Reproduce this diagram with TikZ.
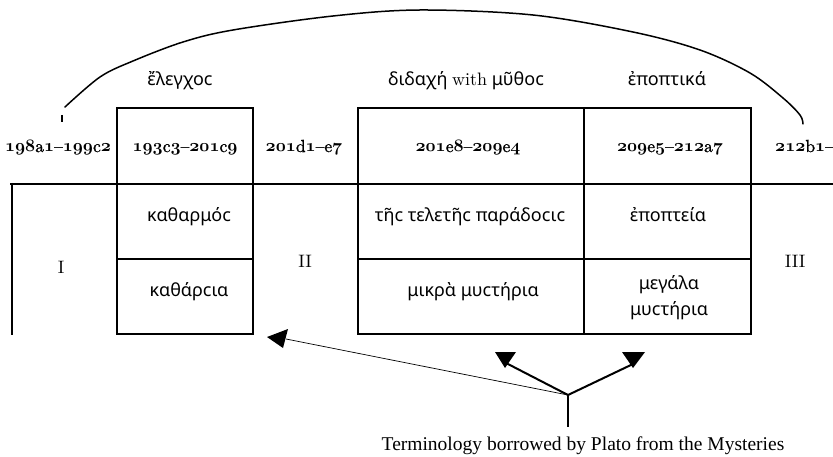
\documentclass[tikz,border=0pt]{standalone}
\usepackage{fontspec}
\newfontfamily\grk{Noto Sans}
\newfontfamily\capfont{Liberation Serif}
\newfontfamily\numfont{lmroman10-regular.otf}[FakeBold=1.3]
\newfontfamily\plainrm{lmroman10-regular.otf}
\font\osfont=cmmib10 at 17.5pt
\newcommand\os[1]{{\osfont #1}}
\begin{document}
\begin{tikzpicture}[x=1pt,y=-1pt,
  num/.style={font=\numfont\fontsize{17.5}{21}\selectfont, anchor=base, inner sep=0pt},
  gk/.style={font=\grk\fontsize{18}{21}\selectfont, anchor=base, inner sep=0pt},
  rn/.style={font=\plainrm\fontsize{18}{21}\selectfont, anchor=base, inner sep=0pt},
  thick box/.style={line width=2.2pt},
  divider/.style={line width=1.5pt},
  arrowline/.style={line width=2pt},
  headfill/.style={fill=black, draw=none}]
\useasboundingbox (0,0) rectangle (833,457);

% table frame
\draw[thick box] (10,184) -- (833,184);
\draw[thick box] (12,183) -- (12,335);
\draw[thick box] (117,108) rectangle (253,334);
\draw[thick box] (358,108) rectangle (751,334);
\draw[thick box] (584,108) -- (584,334);
\draw[divider] (117,259) -- (253,259);
\draw[divider] (358,259) -- (751,259);

% top labels
\node[gk] (elenchos) at (180,86) {ἔλεγχοϲ};
\node[gk] (didache) at (466,86) {διδαχή {\plainrm\fontsize{18}{21}\selectfont with} μῦθοϲ};
\node[gk] (epoptika) at (667,86) {ἐποπτικά};

% reference row
\node[num] (r1) at (58,152) {\os{198}a\os{1}–\os{199}c\os{2}};
\node[num] (r2) at (185,152) {\os{193}c\os{3}–\os{201}c\os{9}};
\node[num] (r3) at (304,152) {\os{201}d\os{1}–e\os{7}};
\node[num] (r4) at (468,152) {\os{201}e\os{8}–\os{209}e\os{4}};
\node[num] (r5) at (670,152) {\os{209}e\os{5}–\os{212}a\os{7}};
\node[num, anchor=base west] (r6) at (775,152) {\os{212}b\os{1}–c\os{3}};

% lower cells
\node[rn] (I) at (61,273) {I};
\node[rn] (II) at (305,268) {II};
\node[rn] (III) at (795,268) {III};
\node[gk] (katharmos) at (189,222) {καθαρμόϲ};
\node[gk] (kathartsia) at (189,297) {καθάρϲια};
\node[gk] (paradosis) at (470,222) {τῆϲ τελετῆϲ παράδοϲιϲ};
\node[gk] (mikra) at (473,297) {μικρὰ μυϲτήρια};
\node[gk] (epopteia) at (668,222) {ἐποπτεία};
\node[font=\grk\fontsize{18}{26}\selectfont, align=center, inner sep=0pt] (megala) at (669,298) {μεγάλα\\μυϲτήρια};

% arc over the whole
\draw[line width=2pt] (62,115) -- (62,122);
\draw[line width=1.5pt, line cap=round] plot[smooth, tension=0.55] coordinates {(65,107) (100,77) (133,61) (183,42) (233,30) (333,16) (420,10) (533,15) (633,32) (700,50) (750,73) (783,98) (800,115) (803,124)};

% arrows
\coordinate (j) at (568,395);
\coordinate (jb) at (568,427);
\coordinate (aL) at (286,339);
\coordinate (aM) at (506,363);
\coordinate (aR) at (633,364);
\draw[line width=0.7pt] (j) -- (aL);
\draw[arrowline] (j) -- (aM);
\draw[arrowline] (j) -- (aR);
\draw[line width=2.5pt] (j) -- (jb);
\fill[headfill] (267,337) -- (288,329) -- (283,348) -- cycle;
\fill[headfill] (495,352) -- (516,352) -- (505,368) -- cycle;
\fill[headfill] (622,352) -- (645,352) -- (633,368) -- cycle;

\node[font=\capfont\fontsize{19.5}{22}\selectfont, anchor=base, inner sep=0pt] (caption) at (583,450) {Terminology borrowed by Plato from the Mysteries};
\end{tikzpicture}
\end{document}
